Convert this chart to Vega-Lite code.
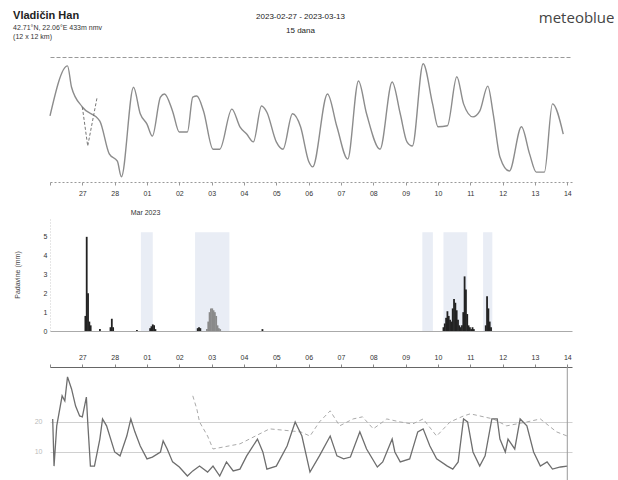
{
  "$schema": "https://vega.github.io/schema/vega-lite/v6.json",
  "background": "white",
  "padding": {"left": 13, "top": 10, "right": 0, "bottom": 0},
  "title": {"text": "Vladičin Han", "subtitle": ["42.71°N, 22.06°E   433m nmv", "(12 x 12 km)"], "anchor": "start", "frame": "bounds", "fontSize": 11, "fontWeight": "bold", "color": "#222", "subtitleFontSize": 7, "subtitleColor": "#333", "subtitlePadding": 3, "subtitleLineHeight": 9, "dy": 30, "offset": 0},
  "bounds": "flush",
  "spacing": 36,
  "config": {"view": {"stroke": null}, "font": "Liberation Sans", "axis": {"labelOverlap": false}, "axisQuantitative": {"labelOverlap": false}},
  "datasets": {
    "temp": [
      {"t": "2023-02-26T00:00", "temp": 8.7}, {"t": "2023-02-26T13:00", "temp": 18.3}, {"t": "2023-02-26T16:00", "temp": 14.2},
      {"t": "2023-02-27T00:00", "temp": 10.4}, {"t": "2023-02-27T13:00", "temp": 7.7}, {"t": "2023-02-27T20:00", "temp": 1.4},
      {"t": "2023-02-28T02:00", "temp": 0.0}, {"t": "2023-02-28T05:00", "temp": -3.0}, {"t": "2023-02-28T14:00", "temp": 14.2},
      {"t": "2023-02-28T19:00", "temp": 9.1}, {"t": "2023-03-01T00:00", "temp": 7.1}, {"t": "2023-03-01T04:00", "temp": 4.8},
      {"t": "2023-03-01T10:00", "temp": 12.3}, {"t": "2023-03-01T13:00", "temp": 12.9}, {"t": "2023-03-01T19:00", "temp": 9.6},
      {"t": "2023-03-02T00:00", "temp": 5.6}, {"t": "2023-03-02T06:00", "temp": 5.6}, {"t": "2023-03-02T10:00", "temp": 12.3},
      {"t": "2023-03-02T13:00", "temp": 12.5}, {"t": "2023-03-02T18:00", "temp": 9.6}, {"t": "2023-03-03T01:00", "temp": 2.3},
      {"t": "2023-03-03T06:00", "temp": 2.3}, {"t": "2023-03-03T15:00", "temp": 10.0}, {"t": "2023-03-03T21:00", "temp": 6.6},
      {"t": "2023-03-04T02:00", "temp": 5.2}, {"t": "2023-03-04T07:00", "temp": 3.7}, {"t": "2023-03-04T13:00", "temp": 10.6},
      {"t": "2023-03-04T17:00", "temp": 9.4}, {"t": "2023-03-05T00:00", "temp": 3.7}, {"t": "2023-03-05T05:00", "temp": 2.3},
      {"t": "2023-03-05T12:00", "temp": 9.1}, {"t": "2023-03-05T18:00", "temp": 6.6}, {"t": "2023-03-06T00:00", "temp": 0.0},
      {"t": "2023-03-06T03:00", "temp": -1.1}, {"t": "2023-03-06T14:00", "temp": 12.9}, {"t": "2023-03-06T21:00", "temp": 6.6},
      {"t": "2023-03-07T05:00", "temp": 0.4}, {"t": "2023-03-07T13:00", "temp": 15.4}, {"t": "2023-03-07T19:00", "temp": 9.1},
      {"t": "2023-03-08T05:00", "temp": 2.3}, {"t": "2023-03-08T14:00", "temp": 15.2}, {"t": "2023-03-08T20:00", "temp": 9.1},
      {"t": "2023-03-09T01:00", "temp": 3.7}, {"t": "2023-03-09T05:00", "temp": 2.9}, {"t": "2023-03-09T13:00", "temp": 18.7},
      {"t": "2023-03-09T20:00", "temp": 11.0}, {"t": "2023-03-10T00:00", "temp": 6.6}, {"t": "2023-03-10T07:00", "temp": 6.8},
      {"t": "2023-03-10T14:00", "temp": 16.2}, {"t": "2023-03-10T19:00", "temp": 11.0}, {"t": "2023-03-11T02:00", "temp": 8.5},
      {"t": "2023-03-11T07:00", "temp": 9.6}, {"t": "2023-03-11T13:00", "temp": 14.4}, {"t": "2023-03-11T17:00", "temp": 9.1},
      {"t": "2023-03-11T22:00", "temp": 0.8}, {"t": "2023-03-12T05:00", "temp": -1.9}, {"t": "2023-03-12T14:00", "temp": 6.6},
      {"t": "2023-03-12T20:00", "temp": 1.4}, {"t": "2023-03-13T01:00", "temp": -2.1}, {"t": "2023-03-13T07:00", "temp": -2.1},
      {"t": "2023-03-13T13:00", "temp": 11.0}, {"t": "2023-03-13T21:00", "temp": 5.2}
    ],
    "temp2": [
      {"t": "2023-02-27T00:00", "temp": 10.4}, {"t": "2023-02-27T04:00", "temp": 2.9}, {"t": "2023-02-27T11:00", "temp": 12.3}
    ],
    "bands": [
      {"t0": "2023-02-28T17:00", "t1": "2023-03-01T02:00"},
      {"t0": "2023-03-02T10:00", "t1": "2023-03-03T12:00"},
      {"t0": "2023-03-09T14:00", "t1": "2023-03-09T22:00"},
      {"t0": "2023-03-10T06:00", "t1": "2023-03-11T00:00"},
      {"t0": "2023-03-11T12:00", "t1": "2023-03-11T19:00"}
    ],
    "precip": [
      {"t": "2023-02-26T23:00", "p": 0.8, "kind": "a"}, {"t": "2023-02-27T00:00", "p": 5.0, "kind": "a"},
      {"t": "2023-02-27T01:00", "p": 2.0, "kind": "a"}, {"t": "2023-02-27T02:00", "p": 0.5, "kind": "a"},
      {"t": "2023-02-27T03:00", "p": 0.3, "kind": "a"}, {"t": "2023-02-27T10:00", "p": 0.1, "kind": "a"},
      {"t": "2023-02-27T18:00", "p": 0.2, "kind": "a"}, {"t": "2023-02-27T19:00", "p": 0.65, "kind": "a"},
      {"t": "2023-02-27T20:00", "p": 0.2, "kind": "a"}, {"t": "2023-02-28T14:00", "p": 0.05, "kind": "a"},
      {"t": "2023-03-01T00:00", "p": 0.15, "kind": "a"}, {"t": "2023-03-01T01:00", "p": 0.25, "kind": "a"},
      {"t": "2023-03-01T02:00", "p": 0.35, "kind": "a"}, {"t": "2023-03-01T03:00", "p": 0.3, "kind": "a"},
      {"t": "2023-03-01T04:00", "p": 0.1, "kind": "a"}, {"t": "2023-03-02T12:00", "p": 0.15, "kind": "a"},
      {"t": "2023-03-02T13:00", "p": 0.2, "kind": "a"}, {"t": "2023-03-02T14:00", "p": 0.15, "kind": "a"},
      {"t": "2023-03-02T19:00", "p": 0.1, "kind": "b"}, {"t": "2023-03-02T20:00", "p": 0.5, "kind": "b"},
      {"t": "2023-03-02T21:00", "p": 1.0, "kind": "b"}, {"t": "2023-03-02T22:00", "p": 1.2, "kind": "b"},
      {"t": "2023-03-02T23:00", "p": 1.2, "kind": "b"}, {"t": "2023-03-03T00:00", "p": 1.1, "kind": "b"},
      {"t": "2023-03-03T01:00", "p": 1.0, "kind": "b"}, {"t": "2023-03-03T02:00", "p": 0.8, "kind": "b"},
      {"t": "2023-03-03T03:00", "p": 0.3, "kind": "b"}, {"t": "2023-03-03T04:00", "p": 0.15, "kind": "b"},
      {"t": "2023-03-03T05:00", "p": 0.1, "kind": "b"}, {"t": "2023-03-04T13:00", "p": 0.1, "kind": "a"},
      {"t": "2023-03-10T06:00", "p": 0.2, "kind": "a"}, {"t": "2023-03-10T07:00", "p": 0.4, "kind": "a"},
      {"t": "2023-03-10T08:00", "p": 0.7, "kind": "a"}, {"t": "2023-03-10T09:00", "p": 1.05, "kind": "a"},
      {"t": "2023-03-10T10:00", "p": 0.8, "kind": "a"}, {"t": "2023-03-10T11:00", "p": 0.6, "kind": "a"},
      {"t": "2023-03-10T12:00", "p": 0.5, "kind": "a"}, {"t": "2023-03-10T13:00", "p": 1.2, "kind": "a"},
      {"t": "2023-03-10T14:00", "p": 1.7, "kind": "a"}, {"t": "2023-03-10T15:00", "p": 1.5, "kind": "a"},
      {"t": "2023-03-10T16:00", "p": 1.1, "kind": "a"}, {"t": "2023-03-10T17:00", "p": 0.6, "kind": "a"},
      {"t": "2023-03-10T18:00", "p": 0.3, "kind": "a"}, {"t": "2023-03-10T19:00", "p": 0.2, "kind": "a"},
      {"t": "2023-03-10T20:00", "p": 0.3, "kind": "a"}, {"t": "2023-03-10T21:00", "p": 1.0, "kind": "a"},
      {"t": "2023-03-10T22:00", "p": 2.9, "kind": "a"}, {"t": "2023-03-10T23:00", "p": 2.2, "kind": "a"},
      {"t": "2023-03-11T00:00", "p": 0.9, "kind": "a"}, {"t": "2023-03-11T01:00", "p": 0.3, "kind": "a"},
      {"t": "2023-03-11T02:00", "p": 0.2, "kind": "a"}, {"t": "2023-03-11T03:00", "p": 0.1, "kind": "a"},
      {"t": "2023-03-11T04:00", "p": 0.2, "kind": "a"}, {"t": "2023-03-11T05:00", "p": 0.1, "kind": "a"},
      {"t": "2023-03-11T14:00", "p": 0.3, "kind": "a"}, {"t": "2023-03-11T15:00", "p": 1.85, "kind": "a"},
      {"t": "2023-03-11T16:00", "p": 1.2, "kind": "a"}, {"t": "2023-03-11T17:00", "p": 0.5, "kind": "a"},
      {"t": "2023-03-11T18:00", "p": 0.2, "kind": "a"}
    ],
    "p3a": [
      {"t": "2023-02-26T02:00", "v": 21}, {"t": "2023-02-26T03:00", "v": 5.3}, {"t": "2023-02-26T05:00", "v": 18.7},
      {"t": "2023-02-26T09:00", "v": 28.7}, {"t": "2023-02-26T11:00", "v": 27}, {"t": "2023-02-26T13:00", "v": 35},
      {"t": "2023-02-26T16:00", "v": 31}, {"t": "2023-02-26T19:00", "v": 25.3}, {"t": "2023-02-26T22:00", "v": 22},
      {"t": "2023-02-27T00:00", "v": 21.7}, {"t": "2023-02-27T03:00", "v": 28.3}, {"t": "2023-02-27T04:00", "v": 20},
      {"t": "2023-02-27T06:00", "v": 5.3}, {"t": "2023-02-27T09:00", "v": 5.3}, {"t": "2023-02-27T13:00", "v": 14.3},
      {"t": "2023-02-27T15:00", "v": 21}, {"t": "2023-02-27T18:00", "v": 18.7}, {"t": "2023-02-28T00:00", "v": 10},
      {"t": "2023-02-28T04:00", "v": 8.7}, {"t": "2023-02-28T09:00", "v": 15.3}, {"t": "2023-02-28T12:00", "v": 21},
      {"t": "2023-02-28T15:00", "v": 16.7}, {"t": "2023-02-28T19:00", "v": 12}, {"t": "2023-03-01T00:00", "v": 7.7},
      {"t": "2023-03-01T04:00", "v": 8.3}, {"t": "2023-03-01T10:00", "v": 10}, {"t": "2023-03-01T12:00", "v": 13.7},
      {"t": "2023-03-01T15:00", "v": 11}, {"t": "2023-03-01T19:00", "v": 6.7}, {"t": "2023-03-02T00:00", "v": 5},
      {"t": "2023-03-02T06:00", "v": 2}, {"t": "2023-03-02T10:00", "v": 3.7}, {"t": "2023-03-02T15:00", "v": 5.3},
      {"t": "2023-03-02T21:00", "v": 3.3}, {"t": "2023-03-03T01:00", "v": 5.3}, {"t": "2023-03-03T06:00", "v": 2},
      {"t": "2023-03-03T11:00", "v": 6.7}, {"t": "2023-03-03T16:00", "v": 3.7}, {"t": "2023-03-03T21:00", "v": 4.3},
      {"t": "2023-03-04T02:00", "v": 8.7}, {"t": "2023-03-04T10:00", "v": 14.3}, {"t": "2023-03-04T14:00", "v": 10},
      {"t": "2023-03-04T17:00", "v": 4.3}, {"t": "2023-03-05T00:00", "v": 5.3}, {"t": "2023-03-05T08:00", "v": 12},
      {"t": "2023-03-05T14:00", "v": 20}, {"t": "2023-03-05T19:00", "v": 15.3}, {"t": "2023-03-06T01:00", "v": 3.3},
      {"t": "2023-03-06T08:00", "v": 8.7}, {"t": "2023-03-06T16:00", "v": 15.3}, {"t": "2023-03-06T21:00", "v": 8.7},
      {"t": "2023-03-07T02:00", "v": 7.7}, {"t": "2023-03-07T07:00", "v": 8.3}, {"t": "2023-03-07T14:00", "v": 16.7},
      {"t": "2023-03-07T19:00", "v": 11}, {"t": "2023-03-08T03:00", "v": 5}, {"t": "2023-03-08T07:00", "v": 6.7},
      {"t": "2023-03-08T14:00", "v": 14.3}, {"t": "2023-03-08T16:00", "v": 10}, {"t": "2023-03-08T20:00", "v": 6.7},
      {"t": "2023-03-09T03:00", "v": 7.7}, {"t": "2023-03-09T09:00", "v": 16.7}, {"t": "2023-03-09T13:00", "v": 17.7},
      {"t": "2023-03-09T18:00", "v": 12}, {"t": "2023-03-09T23:00", "v": 7.7}, {"t": "2023-03-10T07:00", "v": 5.3},
      {"t": "2023-03-10T11:00", "v": 4.3}, {"t": "2023-03-10T15:00", "v": 6.7}, {"t": "2023-03-10T19:00", "v": 21},
      {"t": "2023-03-10T22:00", "v": 20}, {"t": "2023-03-11T02:00", "v": 10}, {"t": "2023-03-11T07:00", "v": 5.3},
      {"t": "2023-03-11T11:00", "v": 8.7}, {"t": "2023-03-11T16:00", "v": 21}, {"t": "2023-03-11T20:00", "v": 21},
      {"t": "2023-03-11T22:00", "v": 14.3}, {"t": "2023-03-12T02:00", "v": 10}, {"t": "2023-03-12T04:00", "v": 14.3},
      {"t": "2023-03-12T09:00", "v": 11}, {"t": "2023-03-12T13:00", "v": 21}, {"t": "2023-03-12T18:00", "v": 18.7},
      {"t": "2023-03-12T23:00", "v": 10}, {"t": "2023-03-13T04:00", "v": 5.3}, {"t": "2023-03-13T09:00", "v": 6.7},
      {"t": "2023-03-13T13:00", "v": 4.3}, {"t": "2023-03-13T19:00", "v": 5}, {"t": "2023-03-14T00:00", "v": 5.3}
    ],
    "p3b": [
      {"t": "2023-03-02T10:00", "v": 28.7}, {"t": "2023-03-02T13:00", "v": 24.3}, {"t": "2023-03-02T15:00", "v": 20},
      {"t": "2023-03-02T21:00", "v": 15.3}, {"t": "2023-03-03T01:00", "v": 11}, {"t": "2023-03-03T21:00", "v": 12.7},
      {"t": "2023-03-04T19:00", "v": 17.7}, {"t": "2023-03-05T18:00", "v": 16.7}, {"t": "2023-03-06T01:00", "v": 15.3},
      {"t": "2023-03-06T08:00", "v": 20}, {"t": "2023-03-06T16:00", "v": 23.7}, {"t": "2023-03-06T23:00", "v": 18.7},
      {"t": "2023-03-07T09:00", "v": 21}, {"t": "2023-03-07T16:00", "v": 21.7}, {"t": "2023-03-08T00:00", "v": 17.7},
      {"t": "2023-03-08T10:00", "v": 21}, {"t": "2023-03-08T20:00", "v": 20}, {"t": "2023-03-09T05:00", "v": 19.3},
      {"t": "2023-03-09T13:00", "v": 21}, {"t": "2023-03-09T23:00", "v": 15.3}, {"t": "2023-03-10T09:00", "v": 20},
      {"t": "2023-03-10T19:00", "v": 22}, {"t": "2023-03-11T00:00", "v": 22.7}, {"t": "2023-03-11T07:00", "v": 22},
      {"t": "2023-03-11T17:00", "v": 21}, {"t": "2023-03-12T03:00", "v": 18.7}, {"t": "2023-03-12T18:00", "v": 20},
      {"t": "2023-03-13T04:00", "v": 21}, {"t": "2023-03-13T16:00", "v": 16.7}, {"t": "2023-03-14T00:00", "v": 15.3}
    ],
    "now": [{"t": "2023-03-14T00:00"}]
  },
  "vconcat": [
    {
      "width": 522, "height": 125,
      "layer": [
        {
          "data": {"name": "temp"},
          "mark": {"type": "line", "color": "#8c8c8c", "strokeWidth": 1.4, "interpolate": "monotone"},
          "encoding": {
            "x": {"field": "t", "type": "temporal",
              "scale": {"domain": [{"year": 2023, "month": 2, "date": 26, "hours": 0}, {"year": 2023, "month": 3, "date": 14, "hours": 3, "minutes": 30}]},
              "axis": {"tickCount": {"interval": "day", "step": 1}, "labelExpr": "date(datum.value) == 26 ? '' : timeFormat(datum.value, '%d')", "labelFontSize": 7, "labelColor": "#333", "labelPadding": 4, "tickSize": 3, "tickColor": "#999", "domainColor": "#999", "domainDash": [2, 2], "grid": false,
                "title": "Mar 2023", "titleX": 95, "titleY": 30, "titleAlign": "center", "titleBaseline": "middle", "titleFontSize": 7, "titleFontWeight": "normal", "titleColor": "#333"}},
            "y": {"field": "temp", "type": "quantitative", "scale": {"domain": [-4, 20], "nice": false, "zero": false},
              "axis": {"labels": false, "ticks": false, "domain": false, "grid": false, "title": "meteoblue", "titleAngle": 0, "titleX": 564, "titleY": -40, "titleAlign": "right", "titleBaseline": "middle", "titleFontSize": 15, "titleFontWeight": "normal", "titleColor": "#444", "titleFont": "Open Sans"}}
          }
        },
        {
          "data": {"name": "temp2"},
          "mark": {"type": "line", "color": "#777", "strokeWidth": 1, "strokeDash": [3, 2]},
          "encoding": {
            "x": {"field": "t", "type": "temporal",
              "axis": {"orient": "top", "labels": false, "ticks": false, "domainColor": "#999", "domainDash": [4, 2], "grid": false,
                "title": ["2023-02-27 - 2023-03-13", "15 dana"], "titleX": 250, "titleY": -45, "titleAlign": "center", "titleBaseline": "top", "titleFontSize": 8, "titleFontWeight": "normal", "titleColor": "#222", "titleLineHeight": 14}},
            "y": {"field": "temp", "type": "quantitative"}
          }
        }
      ],
      "resolve": {"axis": {"x": "independent"}}
    },
    {
      "width": 522, "height": 113,
      "layer": [
        {
          "data": {"name": "bands"},
          "mark": {"type": "rect", "color": "#e9edf5"},
          "encoding": {
            "x": {"field": "t0", "type": "temporal",
              "scale": {"domain": [{"year": 2023, "month": 2, "date": 26, "hours": 0}, {"year": 2023, "month": 3, "date": 14, "hours": 3, "minutes": 30}]},
              "axis": {"labels": false, "ticks": false, "domainColor": "#aaa", "grid": false, "title": null}},
            "x2": {"field": "t1"},
            "y": {"datum": 5.25, "type": "quantitative", "scale": {"domain": [0, 6], "nice": false},
              "axis": {"values": [0, 1, 2, 3, 4, 5], "labelOverlap": false, "labelFontSize": 7, "labelColor": "#333", "labelPadding": 3, "ticks": false, "domainColor": "#ccc", "domainDash": [1, 2], "grid": false,
                "title": "Padavine (mm)", "titleFontSize": 7, "titleFontWeight": "normal", "titleColor": "#444", "titlePadding": 23}},
            "y2": {"datum": 0}
          }
        },
        {
          "data": {"name": "precip"},
          "mark": {"type": "bar", "width": 1.8},
          "encoding": {
            "x": {"field": "t", "type": "temporal"},
            "y": {"field": "p", "type": "quantitative",
              "axis": {"values": [0, 1, 2, 3, 4, 5], "labelOverlap": false, "labelFontSize": 7, "labelColor": "#333", "labelPadding": 3, "ticks": false, "domainColor": "#ccc", "domainDash": [1, 2], "grid": false,
                "title": "Padavine (mm)", "titleFontSize": 7, "titleFontWeight": "normal", "titleColor": "#444", "titlePadding": 23}},
            "color": {"field": "kind", "type": "nominal", "scale": {"domain": ["a", "b"], "range": ["#222222", "#8a8a8a"]}, "legend": null}
          }
        }
      ]
    },
    {
      "width": 522, "height": 115,
      "layer": [
        {
          "data": {"name": "p3b"},
          "mark": {"type": "line", "color": "#aaa", "strokeWidth": 1, "strokeDash": [4, 3]},
          "encoding": {
            "x": {"field": "t", "type": "temporal",
              "scale": {"domain": [{"year": 2023, "month": 2, "date": 26, "hours": 0}, {"year": 2023, "month": 3, "date": 14, "hours": 3, "minutes": 30}]},
              "axis": {"orient": "top", "tickCount": {"interval": "day", "step": 1}, "labelExpr": "date(datum.value) == 26 ? '' : timeFormat(datum.value, '%d')", "labelFontSize": 7, "labelColor": "#333", "labelPadding": 4, "tickSize": 3, "tickColor": "#888", "domainColor": "#666", "grid": false, "title": null}},
            "y": {"field": "v", "type": "quantitative", "scale": {"domain": [0, 38.3], "nice": false},
              "axis": {"values": [10, 20], "labelColor": "#bbb", "labelFontSize": 7, "labelPadding": 8, "ticks": false, "domain": false, "grid": true, "gridColor": "#d0d0d0", "title": null}}
          }
        },
        {
          "data": {"name": "p3a"},
          "mark": {"type": "line", "color": "#6e6e6e", "strokeWidth": 1.3},
          "encoding": {
            "x": {"field": "t", "type": "temporal"},
            "y": {"field": "v", "type": "quantitative"}
          }
        },
        {
          "data": {"name": "now"},
          "mark": {"type": "rule", "color": "#999"},
          "encoding": {"x": {"field": "t", "type": "temporal"}}
        }
      ]
    }
  ]
}
